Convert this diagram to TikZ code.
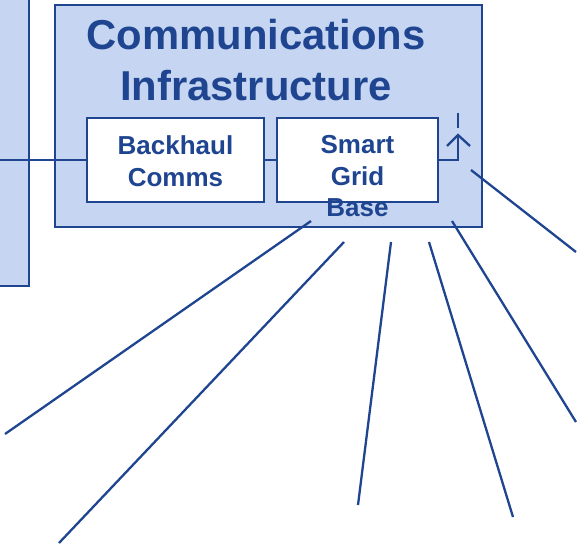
\documentclass[tikz,border=0pt]{standalone}
\usepackage{fontspec}
\setmainfont{Liberation Sans}
\definecolor{ink}{RGB}{31,69,145}
\definecolor{pale}{RGB}{198,214,242}
\tikzset{
  frame/.style={draw=ink, line width=2.3pt, fill=pale},
  boxw/.style={draw=ink, line width=2.3pt, fill=white, minimum width=#1, minimum height=84pt, inner sep=0pt, outer sep=0pt},
  conn/.style={draw=ink, line width=2.3pt},
  ttl/.style={text=ink, font=\bfseries\fontsize{41.8}{51}\selectfont, align=center, inner sep=0pt, anchor=north},
  lbl/.style={text=ink, font=\bfseries\fontsize{26}{31.5}\selectfont, align=center, inner sep=0pt, anchor=north},
}
\begin{document}
\begin{tikzpicture}[x=1pt,y=-1pt]
\useasboundingbox (0,0) rectangle (586,549);
% left panel
\path[frame] (-5,-5) rectangle (29,286);
% main box
\path[frame] (55,5) rectangle (482,227);
\node[ttl] (title) at (256,19) {Communications\\Infrastructure};
% inner boxes
\node[boxw=177pt] (bh) at (175.5,160) {};
\node[boxw=161pt] (sg) at (357.5,160) {};
\node[lbl] (bhtext) at (175.5,135.5) {Backhaul\\Comms};
\node[lbl] (sgtext) at (357.5,135.5) {Smart\\Grid\\Base};
% connectors
\coordinate (lft) at (0,160);
\draw[conn] (lft) -- (bh.west);
\draw[conn] (bh.east) -- (sg.west);
\coordinate (ac) at (458,160);
\coordinate (at) at (458,135);
\coordinate (al) at (447,146);
\coordinate (ar) at (470,146);
\coordinate (s1) at (458,113);
\coordinate (s2) at (458,128);
\draw[conn] (sg.east) -- (ac) -- (at);
\draw[conn] (al) -- (at) -- (ar);
\draw[conn] (s1) -- (s2);
% radiating lines
\coordinate (a1) at (311,221); \coordinate (b1) at (5,434);
\coordinate (a2) at (344,242); \coordinate (b2) at (59,543);
\coordinate (a3) at (391,242); \coordinate (b3) at (358,505);
\coordinate (a4) at (429,242); \coordinate (b4) at (513,517);
\coordinate (a5) at (452,221); \coordinate (b5) at (576,422);
\coordinate (a6) at (471,170); \coordinate (b6) at (576,252);
\foreach \i in {1,...,6} { \draw[conn] (a\i) -- (b\i); }
\end{tikzpicture}
\end{document}
